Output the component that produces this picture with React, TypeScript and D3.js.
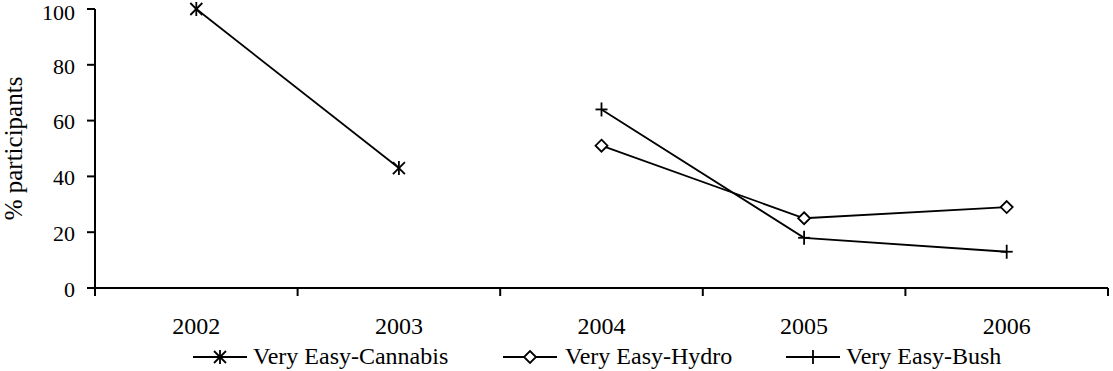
import React from "react";
import * as d3 from "d3";

const years = ["2002", "2003", "2004", "2005", "2006"];
const cannabis: (number | null)[] = [100, 43, null, null, null];
const hydro: (number | null)[] = [null, null, 51, 25, 29];
const bush: (number | null)[] = [null, null, 64, 18, 13];
const yTicks = [0, 20, 40, 60, 80, 100];

type Marker = "asterisk" | "diamond" | "plus";
const series: { name: string; values: (number | null)[]; marker: Marker }[] = [
  { name: "Very Easy-Cannabis", values: cannabis, marker: "asterisk" },
  { name: "Very Easy-Hydro", values: hydro, marker: "diamond" },
  { name: "Very Easy-Bush", values: bush, marker: "plus" },
];

const W = 1113;
const H = 371;
const left = 95;
const right = 1108;
const top = 9;
const bottom = 288;
const family = '"Liberation Serif", "DejaVu Serif", serif';
const textStyle = (size: number): React.CSSProperties => ({
  fontFamily: family,
  fontSize: `${size}px`,
});

function MarkerShape({ type, x, y }: { type: Marker; x: number; y: number }) {
  const s = 6;
  if (type === "asterisk") {
    return (
      <g stroke="#000" strokeWidth={1.8}>
        <line x1={x - s} y1={y - s} x2={x + s} y2={y + s} />
        <line x1={x - s} y1={y + s} x2={x + s} y2={y - s} />
        <line x1={x} y1={y - s - 1} x2={x} y2={y + s + 1} />
      </g>
    );
  }
  if (type === "diamond") {
    const d = 6;
    return (
      <path
        d={`M${x},${y - d}L${x + d},${y}L${x},${y + d}L${x - d},${y}Z`}
        fill="#fff"
        stroke="#000"
        strokeWidth={1.8}
      />
    );
  }
  return (
    <g stroke="#000" strokeWidth={1.8}>
      <line x1={x - s} y1={y} x2={x + s} y2={y} />
      <line x1={x} y1={y - s - 1} x2={x} y2={y + s + 1} />
    </g>
  );
}

export default function App() {
  const x = d3.scaleBand<string>().domain(years).range([left, right]);
  const y = d3.scaleLinear().domain([0, 100]).range([bottom, top]);
  const cx = (yr: string) => (x(yr) as number) + x.bandwidth() / 2;

  const line = d3
    .line<number | null>()
    .defined((d) => d != null)
    .x((_, i) => cx(years[i]))
    .y((d) => y(d as number));

  const boundaries = [...years.map((yr) => x(yr) as number), right];

  const legendItems = [
    { lx: 193, lw: 54, tx: 253 },
    { lx: 503, lw: 54, tx: 565 },
    { lx: 786, lw: 54, tx: 846 },
  ];
  const legendY = 357;

  return (
    <svg width={W} height={H} style={{ position: "absolute", left: 0, top: 0 }}>
      <rect width={W} height={H} fill="#fff" />
      {/* y axis */}
      <line x1={left} y1={top} x2={left} y2={bottom} stroke="#000" strokeWidth={2} />
      {yTicks.map((t) => (
        <g key={t}>
          <line x1={left - 8} y1={y(t)} x2={left} y2={y(t)} stroke="#000" strokeWidth={2} />
          {/* the topmost label is nudged down so it stays inside the frame */}
          <text
            x={75}
            y={Math.max(y(t) + 1, 12)}
            dy="0.35em"
            textAnchor="end"
            style={textStyle(22)}
            fill="#000"
          >
            {t}
          </text>
        </g>
      ))}
      <text
        transform={`translate(22,${(top + bottom) / 2}) rotate(-90)`}
        textAnchor="middle"
        style={textStyle(25)}
        fill="#000"
      >
        % participants
      </text>
      {/* x axis */}
      <line x1={left} y1={bottom} x2={right} y2={bottom} stroke="#000" strokeWidth={2} />
      {boundaries.map((b, i) => (
        <line key={i} x1={b} y1={bottom} x2={b} y2={bottom + 8} stroke="#000" strokeWidth={2} />
      ))}
      {years.map((yr) => (
        <text key={yr} x={cx(yr)} y={334} textAnchor="middle" style={textStyle(24)} fill="#000">
          {yr}
        </text>
      ))}
      {/* series */}
      {series.map((s) => (
        <g key={s.name}>
          <path d={line(s.values) || ""} fill="none" stroke="#000" strokeWidth={1.8} />
          {s.values.map((v, i) =>
            v == null ? null : <MarkerShape key={i} type={s.marker} x={cx(years[i])} y={y(v)} />
          )}
        </g>
      ))}
      {/* legend */}
      {series.map((s, i) => {
        const { lx, lw, tx } = legendItems[i];
        return (
          <g key={s.name}>
            <line x1={lx} y1={legendY} x2={lx + lw} y2={legendY} stroke="#000" strokeWidth={1.8} />
            <MarkerShape type={s.marker} x={lx + lw / 2} y={legendY} />
            <text x={tx} y={364} style={textStyle(24)} fill="#000">
              {s.name}
            </text>
          </g>
        );
      })}
    </svg>
  );
}
